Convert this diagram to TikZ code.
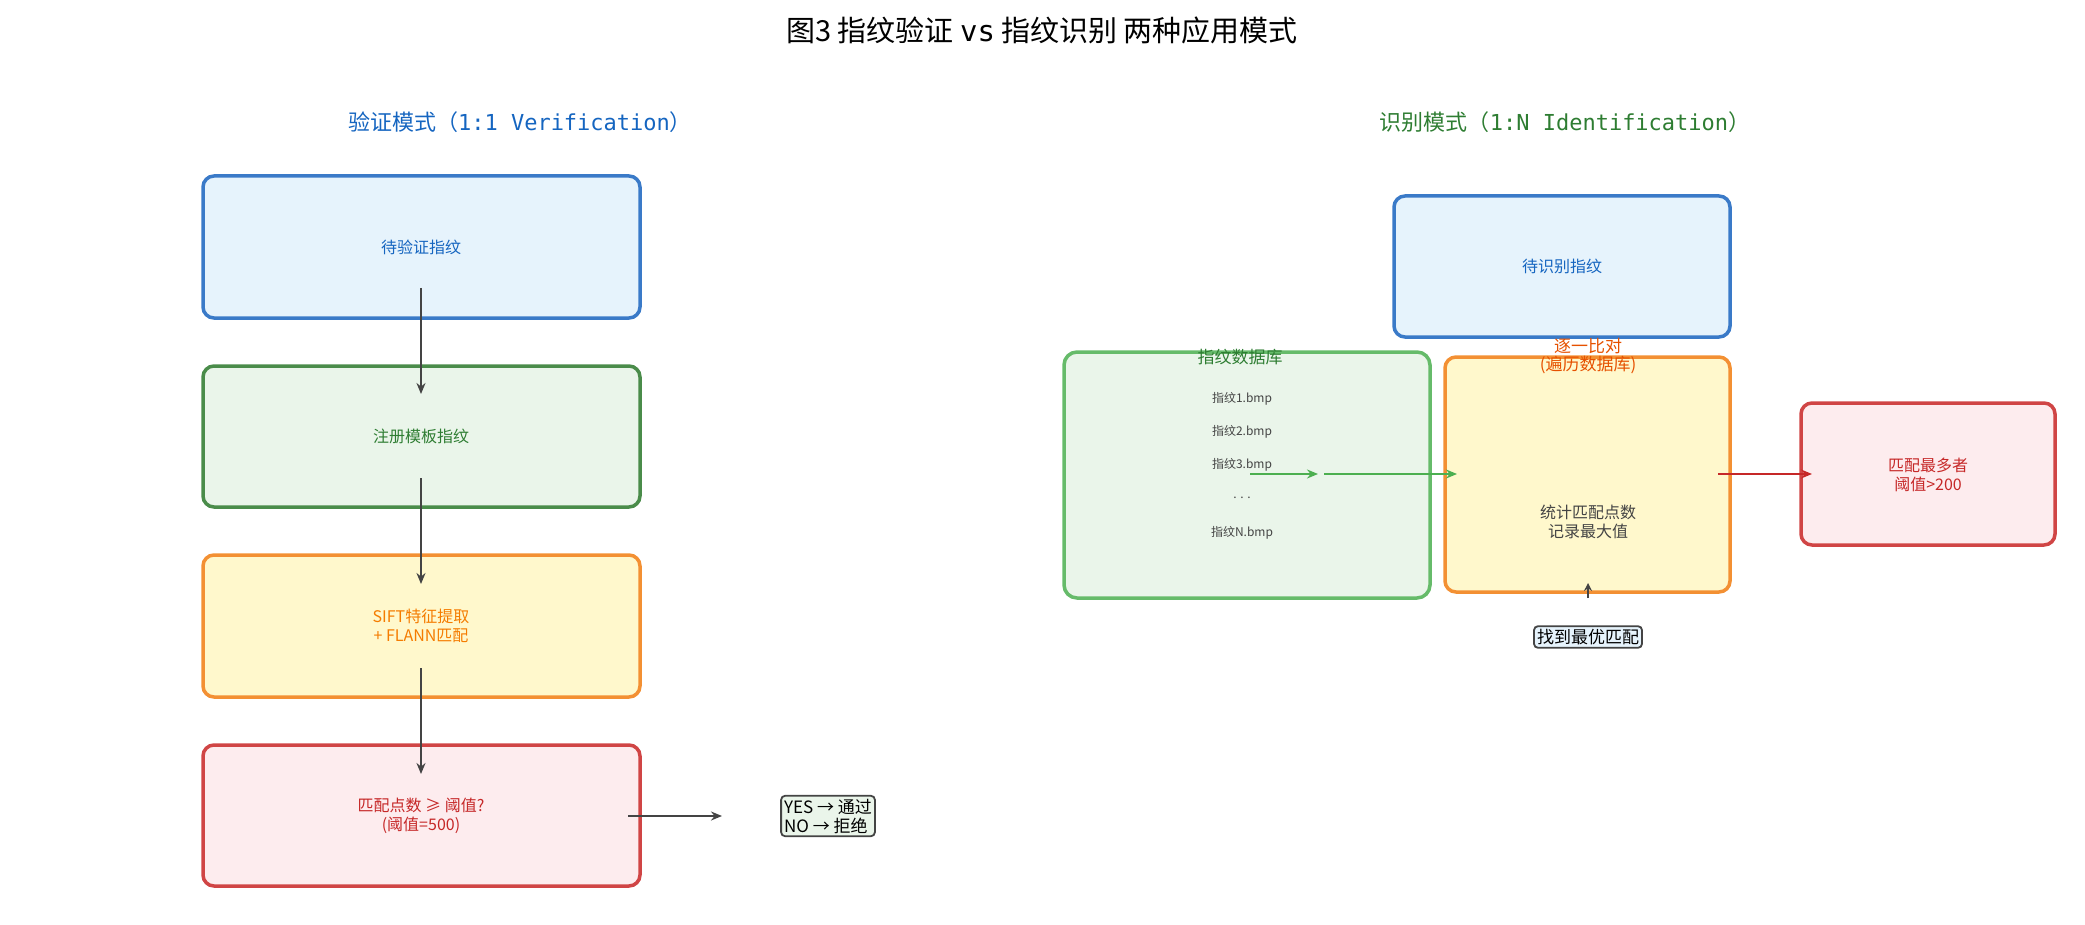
\documentclass[tikz,border=0pt]{standalone}
\usepackage{fontspec}
\setmainfont{Noto Sans CJK SC}
\newfontfamily\monof{DejaVu Sans Mono}
\usetikzlibrary{arrows.meta}
\definecolor{bB}{HTML}{3A7AC8}\definecolor{bF}{HTML}{E6F3FC}\definecolor{bT}{HTML}{1565C0}
\definecolor{gB}{HTML}{4A8C4A}\definecolor{gF}{HTML}{EAF5EA}\definecolor{gT}{HTML}{2E7D32}
\definecolor{g2}{HTML}{66BB6A}\definecolor{ga}{HTML}{4CAF50}
\definecolor{oB}{HTML}{F39033}\definecolor{oF}{HTML}{FFF8CC}\definecolor{oT}{HTML}{E65100}\definecolor{oT2}{HTML}{F57C00}
\definecolor{rB}{HTML}{D04545}\definecolor{rF}{HTML}{FDECEE}\definecolor{rT}{HTML}{C62828}
\definecolor{dk}{HTML}{444444}
\begin{document}
\begin{tikzpicture}[x=1pt,y=-1pt,
 box/.style={draw=#1B,fill=#1F,line width=3.5pt,rounded corners=11pt},
 arr/.style={line width=2.5pt,-{Stealth[length=11pt,width=9pt]}},
 txt/.style={font=\fontsize{16}{19}\selectfont,align=center},
 itm/.style={font=\fontsize{12}{14}\selectfont,text=dk},
 tag/.style={draw=dk,line width=1.8pt,rounded corners=4pt,inner sep=3pt,font=\fontsize{17}{19}\selectfont,align=left}]
\useasboundingbox (0,0) rectangle (2085,925);
\node[font=\fontsize{29}{32}\selectfont] (title) at (1042,30) {图3 指纹验证 {\monof vs} 指纹识别 两种应用模式};
\node[font=\fontsize{22}{26}\selectfont,text=bT] (lt) at (520,122) {验证模式（{\monof 1:1 Verification}）};
\node[font=\fontsize{22}{26}\selectfont,text=gT] (rt) at (1565,122) {识别模式（{\monof 1:N Identification}）};
% left
\draw[box=b] (203,176) rectangle (640,318);
\draw[box=g] (203,366) rectangle (640,507);
\draw[box=o] (203,555) rectangle (640,697);
\draw[box=r] (203,745) rectangle (640,886);
\node[txt,text=bT] (t1) at (421,247) {待验证指纹};
\node[txt,text=gT] (t2) at (421,436) {注册模板指纹};
\node[txt,text=oT2] (t3) at (421,626) {SIFT特征提取\\+ FLANN匹配};
\node[txt,text=rT] (t4) at (421,816) {匹配点数 ≥ 阈值?\\(阈值=500)};
\coordinate (a1) at (421,288);\coordinate (b1) at (421,394);
\coordinate (a2) at (421,478);\coordinate (b2) at (421,584);
\coordinate (a3) at (421,668);\coordinate (b3) at (421,774);
\coordinate (a4) at (628,816);\coordinate (b4) at (722,816);
\draw[arr,dk] (a1)--(b1);\draw[arr,dk] (a2)--(b2);\draw[arr,dk] (a3)--(b3);\draw[arr,dk] (a4)--(b4);
\node[tag,fill=gF] (yn) at (828,816) {YES → 通过\\NO → 拒绝};
% right
\draw[box=b] (1394,196) rectangle (1730,337);
\node[txt,text=bT] (q) at (1562,266) {待识别指纹};
\draw[draw=g2,fill=gF,line width=3.5pt,rounded corners=13pt] (1064,352) rectangle (1430,598);
\node[txt,text=gT,font=\fontsize{17}{19}\selectfont] (dbt) at (1240,357) {指纹数据库};
\node[itm] (d1) at (1242,399) {指纹1.bmp};
\node[itm] (d2) at (1242,432) {指纹2.bmp};
\node[itm] (d3) at (1242,465) {指纹3.bmp};
\node[itm] (d4) at (1242,498) {. . .};
\node[itm] (dn) at (1242,533) {指纹N.bmp};
\draw[box=o] (1445,357) rectangle (1730,592);
\node[txt,text=oT,font=\fontsize{17}{18}\selectfont] (cmp) at (1588,356) {逐一比对\\(遍历数据库)};
\node[txt,text=dk] (st) at (1588,522) {统计匹配点数\\记录最大值};
\coordinate (c1) at (1250,474);\coordinate (c2) at (1318,474);
\coordinate (c3) at (1324,474);\coordinate (c4) at (1457,474);
\draw[arr,ga] (c1)--(c2);\draw[arr,ga] (c3)--(c4);
\draw[box=r] (1801,403) rectangle (2055,545);
\node[txt,text=rT] (best) at (1928,475) {匹配最多者\\阈值>200};
\coordinate (e1) at (1718,474);\coordinate (e2) at (1812,474);
\draw[arr,rT] (e1)--(e2);
\coordinate (f1) at (1588,598);\coordinate (f2) at (1588,583);
\draw[dk,line width=2pt,-{Stealth[length=8pt,width=8pt]}] (f1)--(f2);
\node[tag,fill=bF] (find) at (1588,637) {找到最优匹配};
\end{tikzpicture}
\end{document}
